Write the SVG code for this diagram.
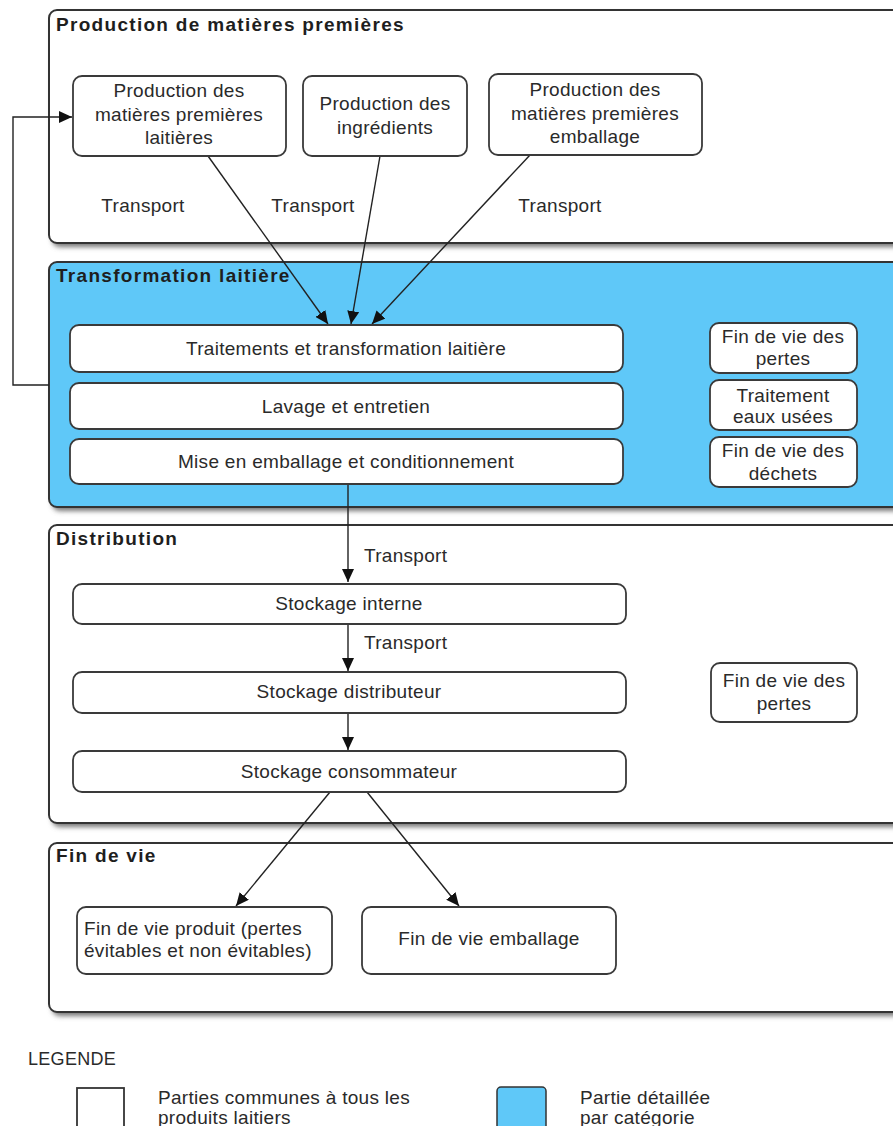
<svg xmlns="http://www.w3.org/2000/svg" width="893" height="1126" viewBox="0 0 893 1126">
<defs>
<style>
.sec{fill:#fff;stroke:#333;stroke-width:2}
.blue{fill:#5FC8F8}
.shd{fill:#777;filter:url(#blur)}
.node{fill:#fff;stroke:#3a3a3a;stroke-width:1.8}
text{font-family:"Liberation Sans",Arial,sans-serif;font-size:19px;fill:#2a2a2a}
.t{text-anchor:middle;letter-spacing:0.3px}
.tl{text-anchor:start;letter-spacing:0.3px}
.h{font-weight:bold;letter-spacing:1.3px;fill:#1e1e1e}
.c{fill:none;stroke:#222;stroke-width:1.4}
</style>
<filter id="blur" x="-5%" y="-10%" width="110%" height="120%"><feGaussianBlur stdDeviation="2.5"/></filter>
<marker id="arr" markerUnits="userSpaceOnUse" markerWidth="14" markerHeight="12" refX="13" refY="6" orient="auto"><path d="M0,0 L13,6 L0,12 Z" fill="#111"/></marker>
</defs>

<g id="sec-production">
<rect class="shd" x="52" y="14" width="870" height="233" rx="8"/>
<rect class="sec" x="49" y="10" width="870" height="233" rx="8"/>
<text class="h" x="56" y="31">Production de matières premières</text>
</g>
<g id="sec-transformation">
<rect class="shd" x="52" y="266" width="870" height="245" rx="8"/>
<rect class="sec blue" x="49" y="262" width="870" height="245" rx="8"/>
<text class="h" x="56" y="282">Transformation laitière</text>
</g>
<g id="sec-distribution">
<rect class="shd" x="52" y="529" width="870" height="298" rx="8"/>
<rect class="sec" x="49" y="525" width="870" height="298" rx="8"/>
<text class="h" x="56" y="545">Distribution</text>
</g>
<g id="sec-findevie">
<rect class="shd" x="52" y="847" width="870" height="169" rx="8"/>
<rect class="sec" x="49" y="843" width="870" height="169" rx="8"/>
<text class="h" x="56" y="862">Fin de vie</text>
</g>

<g id="connectors">
<path class="c" d="M49,385 H13 V117 H72" marker-end="url(#arr)"/>
<line class="c" x1="208" y1="156" x2="328" y2="324" marker-end="url(#arr)"/>
<line class="c" x1="380" y1="156" x2="351" y2="324" marker-end="url(#arr)"/>
<line class="c" x1="530" y1="155" x2="372" y2="324" marker-end="url(#arr)"/>
<line class="c" x1="348" y1="484" x2="348" y2="582" marker-end="url(#arr)"/>
<line class="c" x1="348" y1="624" x2="348" y2="671" marker-end="url(#arr)"/>
<line class="c" x1="348" y1="713" x2="348" y2="750" marker-end="url(#arr)"/>
<line class="c" x1="330" y1="792" x2="236" y2="906" marker-end="url(#arr)"/>
<line class="c" x1="367" y1="792" x2="459" y2="906" marker-end="url(#arr)"/>
<text class="t" x="143" y="212">Transport</text>
<text class="t" x="313" y="212">Transport</text>
<text class="t" x="560" y="212">Transport</text>
<text class="tl" x="364" y="562">Transport</text>
<text class="tl" x="364" y="649">Transport</text>
</g>

<g id="n-mp-laitieres">
<rect class="node" x="73" y="76" width="213" height="80" rx="9"/>
<text class="t" x="179" y="97">Production des</text>
<text class="t" x="179" y="120.5">matières premières</text>
<text class="t" x="179" y="144">laitières</text>
</g>
<g id="n-ingredients">
<rect class="node" x="303" y="76" width="164" height="80" rx="9"/>
<text class="t" x="385" y="110">Production des</text>
<text class="t" x="385" y="134">ingrédients</text>
</g>
<g id="n-mp-emballage">
<rect class="node" x="489" y="74" width="213" height="81" rx="9"/>
<text class="t" x="595" y="96">Production des</text>
<text class="t" x="595" y="119.5">matières premières</text>
<text class="t" x="595" y="143">emballage</text>
</g>

<g id="n-traitements">
<rect class="node" x="70" y="325" width="553" height="47" rx="9"/>
<text class="t" x="346" y="355">Traitements et transformation laitière</text>
</g>
<g id="n-lavage">
<rect class="node" x="70" y="383" width="553" height="46" rx="9"/>
<text class="t" x="346" y="413">Lavage et entretien</text>
</g>
<g id="n-mise-emballage">
<rect class="node" x="70" y="439" width="553" height="45" rx="9"/>
<text class="t" x="346" y="468">Mise en emballage et conditionnement</text>
</g>
<g id="n-fdv-pertes-1">
<rect class="node" x="710" y="323" width="147" height="50" rx="9"/>
<text class="t" x="783" y="343">Fin de vie des</text>
<text class="t" x="783" y="365">pertes</text>
</g>
<g id="n-eaux-usees">
<rect class="node" x="710" y="380" width="147" height="50" rx="9"/>
<text class="t" x="783" y="402">Traitement</text>
<text class="t" x="783" y="423">eaux usées</text>
</g>
<g id="n-fdv-dechets">
<rect class="node" x="710" y="437" width="147" height="50" rx="9"/>
<text class="t" x="783" y="457">Fin de vie des</text>
<text class="t" x="783" y="480">déchets</text>
</g>

<g id="n-stock-interne">
<rect class="node" x="73" y="584" width="553" height="40" rx="9"/>
<text class="t" x="349" y="610">Stockage interne</text>
</g>
<g id="n-stock-distrib">
<rect class="node" x="73" y="672" width="553" height="41" rx="9"/>
<text class="t" x="349" y="698">Stockage distributeur</text>
</g>
<g id="n-stock-conso">
<rect class="node" x="73" y="751" width="553" height="41" rx="9"/>
<text class="t" x="349" y="778">Stockage consommateur</text>
</g>
<g id="n-fdv-pertes-2">
<rect class="node" x="711" y="663" width="146" height="59" rx="9"/>
<text class="t" x="784" y="687">Fin de vie des</text>
<text class="t" x="784" y="710">pertes</text>
</g>

<g id="n-fdv-produit">
<rect class="node" x="77" y="907" width="255" height="67" rx="9"/>
<text class="tl" x="84" y="935">Fin de vie produit (pertes</text>
<text class="tl" x="84" y="957">évitables et non évitables)</text>
</g>
<g id="n-fdv-emballage">
<rect class="node" x="362" y="907" width="254" height="67" rx="9"/>
<text class="t" x="489" y="945">Fin de vie emballage</text>
</g>

<g id="legend">
<text class="tl" x="28" y="1065" style="font-size:18px">LEGENDE</text>
<rect x="77" y="1088" width="47" height="60" fill="#fff" stroke="#333" stroke-width="1.8"/>
<text class="tl" x="158" y="1104">Parties communes à tous les</text>
<text class="tl" x="158" y="1124">produits laitiers</text>
<rect x="497" y="1087" width="49" height="60" rx="4" fill="#5FC8F8" stroke="#333" stroke-width="1.5"/>
<text class="tl" x="580" y="1104">Partie détaillée</text>
<text class="tl" x="580" y="1124">par catégorie</text>
</g>
</svg>
